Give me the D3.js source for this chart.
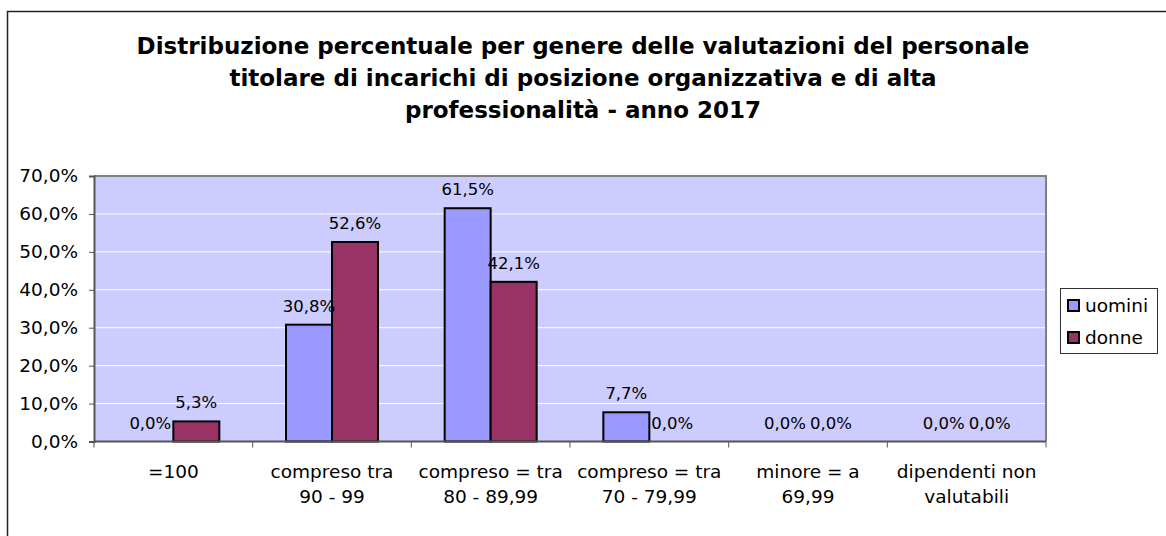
<!DOCTYPE html>
<html>
<head>
<meta charset="utf-8">
<script src="https://cdn.jsdelivr.net/npm/d3@7"></script>
<style>
  body { margin: 0; background: #fff; }
  svg text { font-family: "DejaVu Sans", Verdana, sans-serif; fill: #000; }
</style>
</head>
<body>
<svg id="chart" width="1166" height="536"></svg>
<script>
var categories = [
	["=100"],
	["compreso tra", "90 - 99"],
	["compreso = tra", "80 - 89,99"],
	["compreso = tra", "70 - 79,99"],
	["minore = a", "69,99"],
	["dipendenti non", "valutabili"]
];
var seriesNames = ["uomini", "donne"];
var uomini = [0.0, 30.8, 61.5, 7.7, 0.0, 0.0];
var donne = [5.3, 52.6, 42.1, 0.0, 0.0, 0.0];
var yTicks = [0, 10, 20, 30, 40, 50, 60, 70];
var titleLines = [
	"Distribuzione percentuale per genere delle valutazioni del personale",
	"titolare di incarichi di posizione organizzativa e di alta",
	"professionalità - anno 2017"
];

var colors = { uomini: "#9999FF", donne: "#993366" };

var svg = d3.select("#chart");
var plot = { left: 94, top: 176, right: 1046, bottom: 441.5 };

// outer frame
svg.append("rect")
	.attr("x", 7.5).attr("y", 11.5)
	.attr("width", 1200).attr("height", 600)
	.attr("fill", "none").attr("stroke", "#222").attr("stroke-width", 1.5);

// title
svg.append("g").selectAll("text")
	.data(titleLines)
	.enter().append("text")
	.attr("x", 583)
	.attr("y", function(d, i){ return 54 + i * 32; })
	.attr("text-anchor", "middle")
	.attr("font-weight", "bold")
	.attr("font-size", "23px")
	.text(function(d){ return d; });

var x0 = d3.scaleBand()
	.domain(d3.range(categories.length))
	.range([plot.left, plot.right])
	.paddingInner(0).paddingOuter(0);
var x1 = d3.scaleBand()
	.domain(seriesNames)
	.range([0, x0.bandwidth()])
	.paddingInner(0).paddingOuter(0.725);
var y = d3.scaleLinear().domain([0, 70]).range([plot.bottom, plot.top]);

// plot background
svg.append("rect")
	.attr("x", plot.left).attr("y", plot.top)
	.attr("width", plot.right - plot.left).attr("height", plot.bottom - plot.top)
	.attr("fill", "#CCCCFF");

// gridlines
svg.append("g").selectAll("line")
	.data(yTicks.slice(1, -1))
	.enter().append("line")
	.attr("x1", plot.left).attr("x2", plot.right)
	.attr("y1", function(d){ return y(d); }).attr("y2", function(d){ return y(d); })
	.attr("stroke", "#fff").attr("stroke-width", 1);

// plot border top/right
svg.append("path")
	.attr("d", "M" + plot.left + "," + plot.top + "H" + plot.right + "V" + plot.bottom)
	.attr("fill", "none").attr("stroke", "#808080").attr("stroke-width", 2);

// bars
var data = categories.map(function(c, i){
	return { i: i, values: [
		{ key: "uomini", value: uomini[i] },
		{ key: "donne", value: donne[i] }
	]};
});
var groups = svg.append("g").selectAll("g")
	.data(data)
	.enter().append("g")
	.attr("transform", function(d){ return "translate(" + x0(d.i) + ",0)"; });

groups.selectAll("rect")
	.data(function(d){ return d.values.filter(function(v){ return v.value > 0; }); })
	.enter().append("rect")
	.attr("x", function(d){ return x1(d.key); })
	.attr("y", function(d){ return y(d.value); })
	.attr("width", x1.bandwidth())
	.attr("height", function(d){ return y(0) - y(d.value); })
	.attr("fill", function(d){ return colors[d.key]; })
	.attr("stroke", "#000").attr("stroke-width", 2);

var fmt = function(v){ return v.toFixed(1).replace(".", ",") + "%"; };
groups.selectAll("text")
	.data(function(d){ return d.values; })
	.enter().append("text")
	.attr("x", function(d){ return x1(d.key) + x1.bandwidth() / 2; })
	.attr("y", function(d){ return y(d.value) - 13; })
	.attr("text-anchor", "middle")
	.attr("font-size", "16.5px")
	.text(function(d){ return fmt(d.value); });

// y axis
var yAxis = svg.append("g")
	.attr("transform", "translate(" + plot.left + ",0)")
	.call(d3.axisLeft(y).tickValues(yTicks).tickSize(5).tickPadding(11)
		.tickFormat(function(d){ return d.toFixed(1).replace(".", ",") + "%"; }));
yAxis.select(".domain").attr("stroke", "#555").attr("stroke-width", 2);
yAxis.selectAll(".tick line").attr("stroke", "#555");
yAxis.selectAll("text").attr("font-size", "18.5px").attr("font-family", "DejaVu Sans");

// x axis
var xAxis = svg.append("g").attr("transform", "translate(0," + plot.bottom + ")");
xAxis.append("line")
	.attr("x1", plot.left).attr("x2", plot.right)
	.attr("stroke", "#555").attr("stroke-width", 2);
xAxis.selectAll("line.tick")
	.data(d3.range(categories.length + 1))
	.enter().append("line")
	.attr("class", "tick")
	.attr("x1", function(d){ return plot.left + d * x0.bandwidth(); })
	.attr("x2", function(d){ return plot.left + d * x0.bandwidth(); })
	.attr("y1", 0).attr("y2", 6)
	.attr("stroke", "#555");
xAxis.selectAll("text")
	.data(data)
	.enter().append("text")
	.attr("x", function(d){ return x0(d.i) + x0.bandwidth() / 2; })
	.attr("y", 36)
	.attr("text-anchor", "middle")
	.attr("font-size", "18.5px")
	.selectAll("tspan")
	.data(function(d){ return categories[d.i]; })
	.enter().append("tspan")
	.attr("x", function(){ return d3.select(this.parentNode).attr("x"); })
	.attr("dy", function(d, i){ return i ? 25.5 : 0; })
	.text(function(d){ return d; });

// legend
var legend = svg.append("g").attr("transform", "translate(1060,288)");
legend.append("rect")
	.attr("x", 0.5).attr("y", 0.5).attr("width", 97).attr("height", 65)
	.attr("fill", "#fff").attr("stroke", "#333").attr("stroke-width", 1);
var items = legend.selectAll("g")
	.data(seriesNames)
	.enter().append("g")
	.attr("transform", function(d, i){ return "translate(8," + (12 + i * 32) + ")"; });
items.append("rect")
	.attr("width", 11).attr("height", 11)
	.attr("fill", function(d){ return colors[d]; })
	.attr("stroke", "#000").attr("stroke-width", 2);
items.append("text")
	.attr("x", 17).attr("y", 12)
	.attr("font-size", "18.5px")
	.text(function(d){ return d; });
</script>
</body>
</html>
